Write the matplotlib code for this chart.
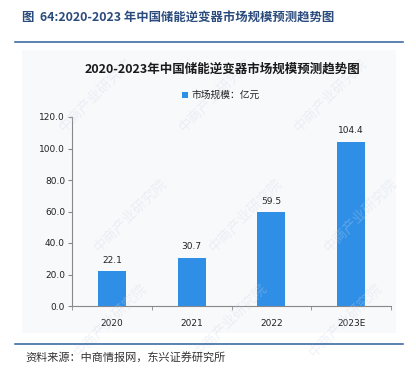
import matplotlib.pyplot as plt
import matplotlib.patches as mpatches

plt.rcParams['font.family'] = ['Noto Sans CJK SC', 'DejaVu Sans']

# ─── Datos ───────────────────────────────────────────────
years = ["2020", "2021", "2022", "2023E"]
market_size = [22.1, 30.7, 59.5, 104.4]
y_ticks = [0, 20, 40, 60, 80, 100, 120]

BAR_COLOR = "#2f8fe6"
HEADER_BLUE = "#2a4b7c"
RULE_BLUE = "#2d5f9a"
PANEL_BG = "#f8f9fb"

fig = plt.figure(figsize=(4.16, 3.70), dpi=100, facecolor="white")
W, H = 416, 370

def fx(x):
    return x / W

def fy(y):
    return 1 - y / H

# cabecera del informe
fig.text(fx(22), fy(18), "图  64:2020-2023 年中国储能逆变器市场规模预测趋势图",
         fontsize=8.9, fontweight="bold", color=HEADER_BLUE, va="center", ha="left")
fig.add_artist(plt.Line2D([fx(15), fx(403)], [fy(42), fy(42)], color=RULE_BLUE, lw=1.1))

# panel de la imagen
fig.add_artist(mpatches.Rectangle((fx(22), fy(333)), fx(374), (333 - 50) / H,
                                  facecolor=PANEL_BG, edgecolor="none", zorder=0))

# marca de agua
for (wx, wy) in [(95, 95), (215, 95), (330, 95), (130, 215), (245, 215), (360, 215),
                 (110, 320), (230, 320), (345, 320)]:
    fig.text(fx(wx), fy(wy), "中商产业研究院", fontsize=10, color="#c9d5e6", alpha=0.3,
             rotation=45, ha="center", va="center", zorder=1)

fig.text(fx(222), fy(69), "2020-2023年中国储能逆变器市场规模预测趋势图",
         fontsize=9, fontweight="bold", color="#1a1a1a", ha="center", va="center")

# leyenda
fig.add_artist(mpatches.Rectangle((fx(182), fy(98)), fx(6), 6 / H, facecolor=BAR_COLOR,
                                  edgecolor="none"))
fig.text(fx(191), fy(95), "市场规模：亿元", fontsize=7, color="#222222", ha="left", va="center")

# ─── Gráfico ───────────────────────────────────────────────
ax = fig.add_axes([fx(72), 1 - 306 / H, 319 / W, 189 / H])
ax.patch.set_alpha(0)
x = list(range(len(years)))
ax.bar(x, market_size, width=0.35, color=BAR_COLOR, zorder=3)
for xi, v in zip(x, market_size):
    ax.text(xi, v + 4, f"{v:.1f}", ha="center", va="bottom", fontsize=6.5,
            family="DejaVu Sans", color="#222222")

ax.set_xlim(-0.5, 3.5)
ax.set_ylim(0, 120)
ax.set_yticks(y_ticks)
ax.set_yticklabels([f"{t:.1f}" for t in y_ticks], fontsize=6.5, family="DejaVu Sans", color="#222222")
ax.set_xticks(x)
ax.set_xticklabels(years, fontsize=6.5, family="DejaVu Sans", color="#222222")
ax.tick_params(axis="x", which="major", length=0, pad=9)
ax.set_xticks([-0.5, 0.5, 1.5, 2.5, 3.5], minor=True)
ax.tick_params(axis="x", which="minor", length=3, color="#888888", direction="out")
ax.tick_params(axis="y", length=3, color="#888888", pad=2)

for s in ["top", "right"]:
    ax.spines[s].set_visible(False)
for s in ["left", "bottom"]:
    ax.spines[s].set_color("#888888")
    ax.spines[s].set_linewidth(0.8)

# pie
fig.add_artist(plt.Line2D([fx(15), fx(403)], [fy(344), fy(344)], color=RULE_BLUE, lw=1.1))
fig.text(fx(25), fy(357), "资料来源：中商情报网，东兴证券研究所", fontsize=8, style="italic",
         color="#333333", ha="left", va="center")

plt.savefig("out.png", dpi=100)
